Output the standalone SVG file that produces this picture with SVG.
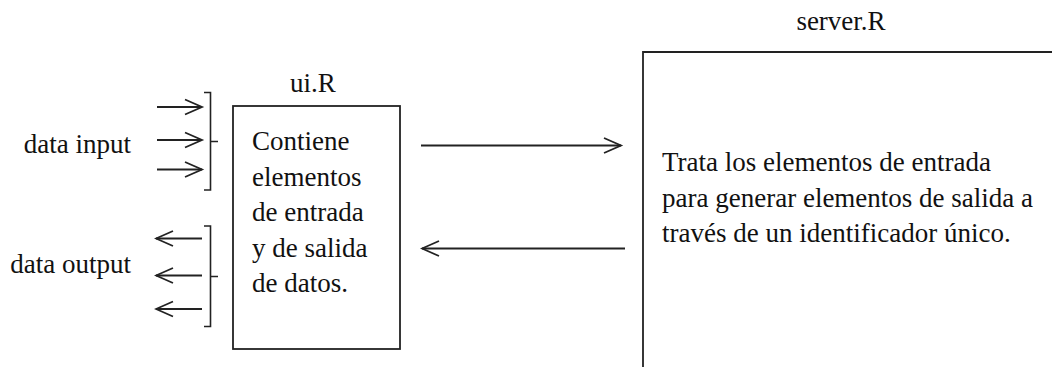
<svg xmlns="http://www.w3.org/2000/svg" width="1052" height="367" viewBox="0 0 1052 367">
<defs>
<style>
text{font-family:"Liberation Serif","Times New Roman",serif;font-size:27px;fill:#111}
.box{fill:none;stroke:#222;stroke-width:1.8}
.ln{fill:none;stroke:#222;stroke-width:1.8}
.br{fill:none;stroke:#222;stroke-width:1.6}
</style>
<marker id="ah" markerUnits="userSpaceOnUse" markerWidth="22" markerHeight="20" viewBox="-19 -10 21 20" refX="0" refY="0" orient="auto">
<path d="M-17,-7.5 L0,0 L-17,7.5" fill="none" stroke="#222" stroke-width="1.8"/>
</marker>
</defs>
<rect width="1052" height="367" fill="#fff"/>
<g id="ui">
<rect class="box" x="233" y="106" width="167" height="243"/>
<text x="313" y="92" text-anchor="middle">ui.R</text>
<text x="252" y="150">Contiene</text>
<text x="252" y="186">elementos</text>
<text x="252" y="221">de entrada</text>
<text x="252" y="257">y de salida</text>
<text x="252" y="292">de datos.</text>
</g>
<g id="server">
<path class="box" d="M643,368 V52 H1053"/>
<text x="841" y="30" text-anchor="middle">server.R</text>
<text x="662" y="171">Trata los elementos de entrada</text>
<text x="662" y="207">para generar elementos de salida a</text>
<text x="662" y="242">través de un identificador único.</text>
</g>
<g id="data-input">
<text x="131" y="153" text-anchor="end">data input</text>
<path class="br" d="M204,92.5 H210.5 V190 H204 M210.5,141.5 H218"/>
</g>
<g id="data-output">
<text x="131" y="273" text-anchor="end">data output</text>
<path class="br" d="M204,226 H210.5 V326.5 H204 M210.5,276.5 H218"/>
</g>
<g id="connectors">
<line class="ln" x1="157" y1="107" x2="202" y2="107" marker-end="url(#ah)"/>
<line class="ln" x1="157" y1="140" x2="202" y2="140" marker-end="url(#ah)"/>
<line class="ln" x1="157" y1="169.5" x2="202" y2="169.5" marker-end="url(#ah)"/>
<line class="ln" x1="202" y1="238.5" x2="156" y2="238.5" marker-end="url(#ah)"/>
<line class="ln" x1="202" y1="275.5" x2="156" y2="275.5" marker-end="url(#ah)"/>
<line class="ln" x1="202" y1="309" x2="156" y2="309" marker-end="url(#ah)"/>
<line class="ln" x1="421" y1="145.5" x2="621" y2="145.5" marker-end="url(#ah)"/>
<line class="ln" x1="625" y1="248.5" x2="422" y2="248.5" marker-end="url(#ah)"/>
</g>
</svg>
